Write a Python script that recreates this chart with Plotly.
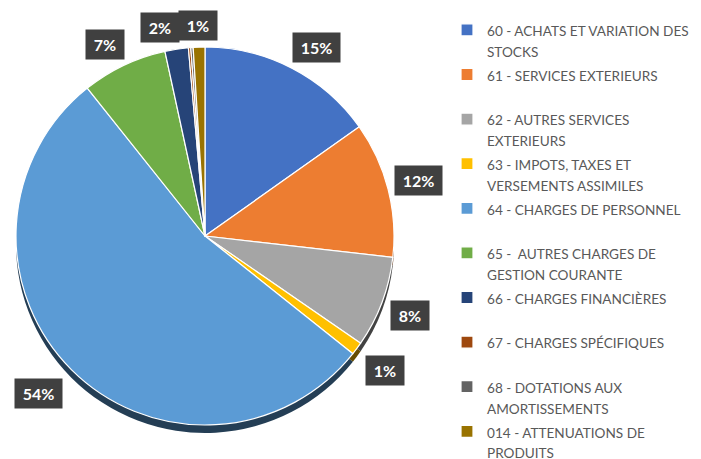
import math
import plotly.graph_objects as go

# ---------------- data ----------------
categories = [
    "60 - ACHATS ET VARIATION DES STOCKS",
    "61 - SERVICES EXTERIEURS",
    "62 - AUTRES SERVICES EXTERIEURS",
    "63 - IMPOTS, TAXES ET VERSEMENTS ASSIMILES",
    "64 - CHARGES DE PERSONNEL",
    "65 -  AUTRES CHARGES DE GESTION COURANTE",
    "66 - CHARGES FINANCIÈRES",
    "67 - CHARGES SPÉCIFIQUES",
    "68 - DOTATIONS AUX AMORTISSEMENTS",
    "014 - ATTENUATIONS DE PRODUITS",
]
legend_labels = [
    "60 - ACHATS ET VARIATION DES<br>STOCKS",
    "61 - SERVICES EXTERIEURS",
    "62 - AUTRES SERVICES<br>EXTERIEURS",
    "63 - IMPOTS, TAXES ET<br>VERSEMENTS ASSIMILES",
    "64 - CHARGES DE PERSONNEL",
    "65 -  AUTRES CHARGES DE<br>GESTION COURANTE",
    "66 - CHARGES FINANCIÈRES",
    "67 - CHARGES SPÉCIFIQUES",
    "68 - DOTATIONS AUX<br>AMORTISSEMENTS",
    "014 - ATTENUATIONS DE<br>PRODUITS",
]
shares = [15.2, 11.6, 7.8, 1.1, 53.6, 7.3, 2.0, 0.2, 0.2, 1.0]
colors = ["#4472C4", "#ED7D31", "#A5A5A5", "#FFC000", "#5B9BD5",
          "#70AD47", "#264478", "#9E480E", "#636363", "#997300"]

# ---------------- layout constants ----------------
OFF = 8                            # page (body) margin offset
W, H = 701, 459 + 2 * OFF          # figure is taller so the legend is not squeezed
CX, CY, R = 205 - OFF, 236 - OFF, 189   # pie centre / radius in figure pixels
DEPTH = 8                          # 3-D side thickness in pixels
GAP = 7                            # distance between rim and label


def darken(hx, f=0.4):
    r, g, b = int(hx[1:3], 16), int(hx[3:5], 16), int(hx[5:7], 16)
    return "#%02x%02x%02x" % (int(r * f), int(g * f), int(b * f))


def fmt(lbl):
    lines = lbl.split("<br>")
    if len(lines) == 1:
        lines.append("\u00a0")
    return "<br>".join('<span style="font-size:13.6px">%s</span>' % l for l in lines)


names = [fmt(l) for l in legend_labels]

dom_x = [(CX - R) / W, (CX + R) / W]
dom_y = [1 - (CY + R) / H, 1 - (CY - R) / H]
dom_y_sh = [1 - (CY + DEPTH + R) / H, 1 - (CY + DEPTH - R) / H]

fig = go.Figure()
# 3-D side (shadow) pie
fig.add_trace(go.Pie(
    labels=names, values=shares, sort=False, direction="clockwise", rotation=0,
    marker=dict(colors=[darken(c) for c in colors], line=dict(width=0)),
    textinfo="none", hoverinfo="skip", showlegend=False,
    domain=dict(x=dom_x, y=dom_y_sh),
))
# main pie
fig.add_trace(go.Pie(
    labels=names, values=shares, sort=False, direction="clockwise", rotation=0,
    marker=dict(colors=colors, line=dict(color="white", width=1.2)),
    textinfo="none", hovertext=categories, hoverinfo="text+percent",
    domain=dict(x=dom_x, y=dom_y),
))

# ---------------- percentage labels ----------------
total = sum(shares)
boxes = []
cum = 0.0
for v in shares:
    mid = (cum + v / 2) / total
    cum += v
    pct = round(v / total * 100)
    if v / total < 0.005:
        continue
    txt = "%d%%" % pct
    hw = 23.5 if len(txt) >= 3 else 19
    hh = 14.5
    th = 2 * math.pi * mid
    dx, dy = math.sin(th), -math.cos(th)
    d = R + GAP + (DEPTH * dy if dy > 0 else 0)
    px, py = CX + d * dx, CY + d * dy
    fx = max(-1, min(1, 2 * dx))
    fy = max(-1, min(1, 2 * dy))
    boxes.append([px + hw * fx, py + hh * fy, hw, hh, txt])

# push overlapping neighbours apart horizontally
for i in range(len(boxes) - 1):
    a, b = boxes[i], boxes[i + 1]
    if abs(a[0] - b[0]) < a[2] + b[2] and abs(a[1] - b[1]) < a[3] + b[3]:
        ov = a[2] + b[2] - abs(a[0] - b[0])
        a[0] += -ov if a[0] < b[0] else ov

for x, y, hw, hh, txt in boxes:
    fig.add_annotation(
        x=x / W, y=1 - y / H, xref="paper", yref="paper",
        text="<b>%s</b>" % txt, showarrow=False,
        font=dict(family="Lato, Liberation Sans, sans-serif", size=16, color="white"),
        bgcolor="#404040", borderpad=4,
        width=2 * hw - 8, height=2 * hh - 8,
        xanchor="center", yanchor="middle",
    )

fig.update_layout(
    width=W, height=H,
    margin=dict(l=0, r=0, t=0, b=0),
    paper_bgcolor="white", plot_bgcolor="white",
    showlegend=True,
    legend=dict(
        x=(447 - OFF) / W, xanchor="left", y=1 - 5 / H, yanchor="top",
        valign="top", traceorder="normal",
        font=dict(family="Lato, Liberation Sans, sans-serif", size=16, color="#595959"),
        bgcolor="rgba(0,0,0,0)",
    ),
)

fig.write_html("out.html")
